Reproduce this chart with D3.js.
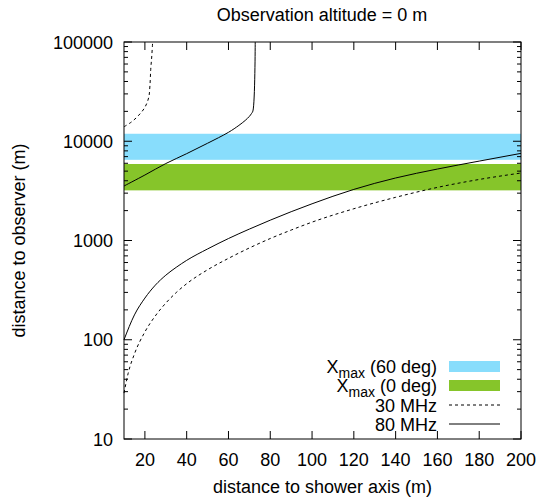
<!DOCTYPE html>
<html><head><meta charset="utf-8">
<script src="https://cdn.jsdelivr.net/npm/d3@7"></script>
<style>body{margin:0;background:#fff;} text{font-family:"Liberation Sans",Arial,sans-serif;}</style>
</head><body>
<svg id="c" width="540" height="498"></svg>
<script>
// ---- data ----
const title = "Observation altitude = 0 m";
const xLabel = "distance to shower axis (m)";
const yLabel = "distance to observer (m)";
const xTicks = [20,40,60,80,100,120,140,160,180,200];
const yTicks = [10,100,1000,10000,100000];
const bandNames = ["(60 deg)","(0 deg)"];
const bandLow  = [6500, 3200];
const bandHigh = [11900, 5900];
const bandColors = ["#88ddfc","#86c52a"];
// 30 MHz lower branch
const x30Low = [10,12,15,20,25,30,35,40,50,60,70,80,90,100,120,140,160,180,200];
const d30Low = [29,46,72,120,174,234,299,367,507,661,841,1047,1274,1531,2089,2723,3428,4121,4786];
// 30 MHz upper branch
const x30Up = [10,13.5,16.7,19.9,21.8,22.4,22.8,23.3,23.7];
const d30Up = [14000,15600,17960,21800,27500,36100,53100,72300,100000];
// 80 MHz lower branch
const x80Low = [10,15,20,25,30,35,40,50,60,70,80,90,100,120,140,160,180,200];
const d80Low = [100,178,263,355,447,537,631,822,1047,1303,1603,1950,2344,3273,4266,5248,6310,7550];
// 80 MHz upper branch
const x80Up = [10,20,30,40,50,60,65,68,70,71,71.7,72.8];
const d80Up = [3540,4570,5960,7500,9550,12300,14450,16200,17800,19000,20200,100000];
const legendLines = ["30 MHz","80 MHz"];

// ---- layout ----
const svg = d3.select("#c");
const L=124, T=42, R=521, B=439;
const x = d3.scaleLinear().domain([10,200]).range([L,R]);
const y = d3.scaleLog().domain([10,100000]).range([B,T]);

// bands
svg.selectAll("rect.band").data(bandLow).enter().append("rect")
  .attr("x",x(10)).attr("width",x(200)-x(10))
  .attr("y",(d,i)=>y(bandHigh[i])).attr("height",(d,i)=>y(bandLow[i])-y(bandHigh[i]))
  .attr("fill",(d,i)=>bandColors[i]);

// curves
const smooth = d3.line().x(d=>x(d[0])).y(d=>y(d[1])).curve(d3.curveMonotoneX);
const cr = d3.line().x(d=>x(d[0])).y(d=>y(d[1])).curve(d3.curveCatmullRom);
function draw(xs,ds,dash,gen){
  svg.append("path").datum(xs.map((v,i)=>[v,ds[i]]))
    .attr("d",gen).attr("fill","none").attr("stroke","#000").attr("stroke-width",1)
    .attr("stroke-dasharray",dash);
}
draw(x30Low,d30Low,"3,3",smooth);
draw(x30Up,d30Up,"3,3",cr);
draw(x80Low,d80Low,null,smooth);
draw(x80Up,d80Up,null,cr);

// ticks
const g = svg.append("g").attr("stroke","#000").attr("stroke-width",1);
xTicks.forEach(t=>{
  g.append("line").attr("x1",x(t)).attr("x2",x(t)).attr("y1",B).attr("y2",B-8);
  g.append("line").attr("x1",x(t)).attr("x2",x(t)).attr("y1",T).attr("y2",T+8);
});
y.ticks().forEach(t=>{
  const len = yTicks.includes(t)?8:4;
  g.append("line").attr("x1",L).attr("x2",L+len).attr("y1",y(t)).attr("y2",y(t));
  g.append("line").attr("x1",R).attr("x2",R-len).attr("y1",y(t)).attr("y2",y(t));
});
// frame
svg.append("rect").attr("x",L).attr("y",T).attr("width",R-L).attr("height",B-T)
  .attr("fill","none").attr("stroke","#000").attr("stroke-width",1);

// tick labels
const fs = 18;
svg.selectAll("text.xt").data(xTicks).enter().append("text")
  .attr("x",d=>x(d)).attr("y",B+27).attr("text-anchor","middle").attr("font-size",fs).text(d=>d);
svg.selectAll("text.yt").data(yTicks).enter().append("text")
  .attr("x",L-11).attr("y",d=>y(d)+6.5).attr("text-anchor","end").attr("font-size",fs).text(d=>d);

// axis labels / title
svg.append("text").attr("x",(L+R)/2).attr("y",493).attr("text-anchor","middle").attr("font-size",fs).text(xLabel);
svg.append("text").attr("transform",`translate(25,${(T+B)/2}) rotate(-90)`).attr("text-anchor","middle").attr("font-size",fs).text(yLabel);
svg.append("text").attr("x",322).attr("y",21).attr("text-anchor","middle").attr("font-size",fs).text(title);

// legend
const lx = 437, sx1 = 449, sx2 = 500;
const rowsY = [366,385,405,424];
bandNames.forEach((n,i)=>{
  const t = svg.append("text").attr("x",lx).attr("y",rowsY[i]+6.5).attr("text-anchor","end").attr("font-size",fs);
  t.append("tspan").text("X");
  t.append("tspan").attr("dy",5).attr("font-size",14).text("max");
  t.append("tspan").attr("dy",-5).text(" "+n);
  svg.append("rect").attr("x",sx1).attr("width",sx2-sx1).attr("y",rowsY[i]-5).attr("height",11).attr("fill",bandColors[i]);
});
legendLines.forEach((n,i)=>{
  const yy = rowsY[i+2];
  svg.append("text").attr("x",lx).attr("y",yy+6.5).attr("text-anchor","end").attr("font-size",fs).text(n);
  svg.append("line").attr("x1",sx1).attr("x2",sx2).attr("y1",yy).attr("y2",yy)
    .attr("stroke","#000").attr("stroke-width",1).attr("stroke-dasharray",i==0?"3,3":null);
});
</script>
</body></html>
